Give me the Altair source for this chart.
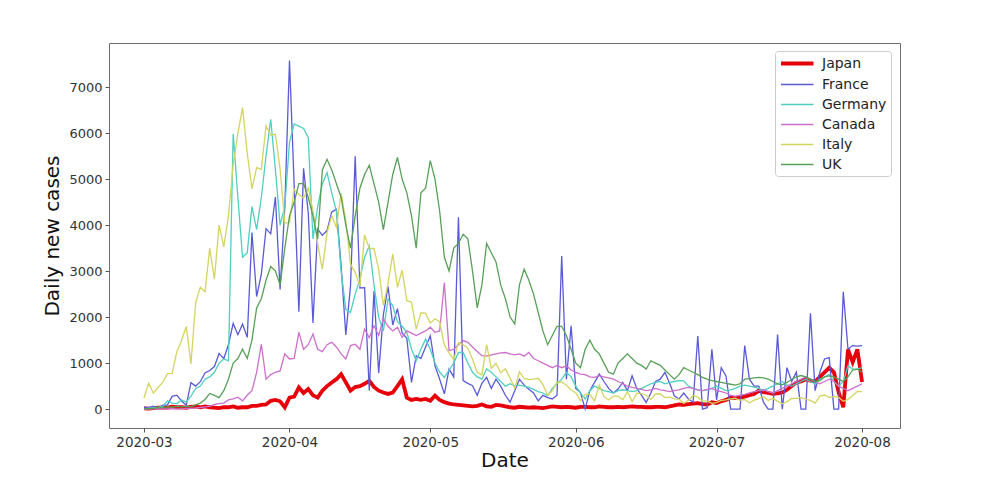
import altair as alt
import pandas as pd

# ---------------- data (daily, 2020-03-01 .. 2020-08-01) ----------------
dates = pd.date_range("2020-03-01", periods=154, freq="D")

countries = ["Japan", "France", "Germany", "Canada", "Italy", "UK"]

japan = [15, 10, 20, 30, 35, 30, 50, 40, 40, 30,
         50, 60, 40, 60, 40, 30, 20, 40, 40, 60,
         30, 40, 40, 70, 70, 90, 100, 180, 200, 170,
         36, 250, 270, 470, 350, 435, 300, 250, 400, 500,
         580, 650, 760, 580, 400, 480, 500, 550, 615, 480,
         400, 360, 330, 360, 500, 650, 250, 200, 220, 200,
         220, 180, 290, 200, 150, 120, 100, 90, 80, 70,
         60, 70, 100, 60, 50, 90, 80, 60, 40, 30,
         50, 40, 30, 40, 30, 20, 40, 60, 50, 40,
         50, 40, 30, 50, 50, 40, 40, 60, 50, 40,
         40, 50, 40, 50, 60, 50, 50, 40, 40, 50,
         50, 40, 60, 80, 100, 90, 110, 120, 130, 110,
         100, 150, 130, 170, 200, 250, 240, 250, 270, 300,
         330, 400, 370, 350, 330, 340, 360, 420, 500, 580,
         600, 650, 620, 600, 700, 800, 900, 800, 370, 40,
         1300, 1020, 1300, 590]

france = [43, 30, 61, 13, 84, 92, 276, 303, 177, 83,
          575, 499, 595, 785, 838, 924, 1210, 1097, 1404, 1861,
          1617, 1847, 1559, 3838, 2446, 2931, 3922, 3809, 4611, 2599,
          4376, 7578, 4861, 2116, 5233, 4267, 1873, 3912, 3777, 3881,
          4286, 4342, 3114, 1613, 2673, 5497, 2633, 2641, 405, 2569,
          785, 2051, 2667, 1827, 2183, 1653, 1537, 580, 1160, 1100,
          1350, 1590, 940, 650, 330, 870, 700, 4170, 620, 560,
          510, 300, 560, 690, 450, 650, 500, 300, 150, 400,
          650, 520, 430, 350, 180, 300, 250, 220, 300, 3330,
          650, 1810, 450, 360, 0, 400, 580, 760, 600, 450,
          350, 435, 580, 400, 725, 450, 300, 145, 350, 600,
          650, 800, 560, 290, 220, 350, 220, 150, 1590, 0,
          30, 1300, 200, 900, 720, 0, 0, 0, 1380, 650,
          500, 500, 145, 0, 0, 1620, 0, 900, 600, 800,
          0, 0, 2080, 400, 800, 1090, 1120, 0, 0, 2550,
          1300, 1380, 1370, 1380]

germany = [0, 20, 30, 40, 60, 180, 130, 120, 200, 150,
           280, 450, 500, 650, 700, 800, 1000, 1090, 1050, 5980,
           4600, 3300, 3400, 4400, 3900, 4600, 5500, 6300, 5200, 4000,
           4400, 5800, 6200, 6150, 6100, 5900, 3700, 4400, 4900, 5140,
           4700, 4300, 3000, 2170, 2100, 2500, 2830, 3300, 3550, 2700,
           2000, 1700, 2390, 2250, 1900, 1800, 1670, 1300, 1050, 1300,
           1520, 1300, 1000, 800, 690, 850, 1000, 1230, 1230, 1000,
           800, 700, 650, 870, 800, 700, 600, 500, 550, 500,
           520, 500, 470, 430, 380, 350, 290, 450, 550, 650,
           800, 700, 500, 350, 220, 400, 500, 450, 400, 380,
           350, 400, 420, 400, 380, 400, 450, 500, 550, 580,
           600, 550, 580, 600, 620, 615, 500, 450, 420, 400,
           420, 450, 500, 450, 400, 420, 450, 500, 520, 500,
           480, 450, 400, 450, 500, 550, 600, 520, 500, 550,
           600, 650, 600, 550, 650, 700, 750, 600, 500, 600,
           940, 870, 870, 900]

canada = [4, 0, 3, 3, 3, 4, 12, 6, 6, 15,
          16, 24, 35, 50, 60, 100, 120, 130, 200, 220,
          260, 180, 300, 400, 800, 1410, 650, 750, 800, 830,
          1200, 1090, 1100, 1670, 1300, 1400, 1630, 1300, 1250, 1400,
          1450, 1350, 1200, 1090, 1380, 1410, 1300, 1740, 1550, 1810,
          1600, 1960, 1800, 1700, 1780, 1560, 1700, 1650, 1600, 1650,
          1700, 1780, 1670, 1700, 2750, 1270, 1300, 1400, 1490, 1450,
          1350, 1250, 1160, 1150, 1180, 1200, 1220, 1230, 1200, 1180,
          1200, 1150, 1230, 1100, 1050, 1000, 950, 900, 950, 900,
          940, 850, 800, 760, 750, 700, 690, 725, 700, 680,
          650, 600, 550, 500, 470, 450, 430, 400, 420, 450,
          420, 400, 380, 400, 420, 450, 470, 450, 420, 400,
          430, 450, 400, 380, 350, 300, 280, 300, 320, 350,
          380, 400, 420, 380, 350, 400, 450, 500, 550, 600,
          650, 700, 650, 600, 550, 600, 650, 600, 500, 450,
          400, 450, 500, 550]

italy = [240, 561, 347, 466, 587, 769, 778, 1247, 1492, 1797,
         977, 2313, 2651, 2547, 3497, 2823, 4000, 3526, 4207, 5322,
         5986, 6557, 5560, 4789, 5249, 5210, 6153, 5959, 5974, 5217,
         4050, 4053, 4782, 4668, 4585, 4805, 4316, 3599, 3039, 3836,
         4204, 3951, 4694, 4092, 3153, 2972, 2667, 3786, 3493, 3491,
         3047, 2256, 2729, 3370, 2646, 3021, 2357, 2324, 1739, 2091,
         2086, 1872, 1965, 1900, 1389, 1221, 1075, 1444, 1401, 1327,
         1083, 802, 744, 1402, 888, 992, 789, 875, 675, 451,
         813, 665, 642, 652, 669, 531, 300, 397, 584, 593,
         516, 416, 355, 178, 318, 321, 177, 518, 270, 197,
         280, 283, 202, 379, 163, 346, 338, 301, 210, 328,
         333, 251, 262, 224, 218, 122, 190, 296, 259, 175,
         174, 126, 142, 187, 201, 223, 235, 192, 208, 138,
         193, 229, 276, 188, 234, 169, 114, 162, 230, 233,
         249, 219, 190, 129, 282, 306, 252, 275, 255, 170,
         212, 289, 386, 379]

uk = [10, 10, 15, 30, 30, 50, 40, 60, 50, 60,
      50, 90, 130, 210, 340, 300, 250, 400, 650, 1000,
      1100, 1300, 1100, 1500, 2200, 2400, 2800, 3100, 3000, 2700,
      3500, 4200, 4500, 4900, 4900, 4600, 4200, 3700, 5200, 5430,
      5200, 4900, 4600, 4000, 3500, 4200, 4800, 5100, 5300, 4900,
      4500, 3900, 4500, 5100, 5470, 5000, 4700, 4200, 3500, 4700,
      4800, 5400, 5000, 4300, 3300, 3000, 3500, 3600, 3800, 3700,
      3000, 2200, 2700, 3600, 3400, 3200, 2700, 2400, 2000, 1850,
      2700, 3040, 2800, 2500, 2100, 1700, 1400, 1600, 1800, 1800,
      1600, 1300, 1000, 900, 1300, 1500, 1300, 1200, 1000, 800,
      760, 1000, 1100, 1200, 1100, 1000, 950, 870, 1050, 1000,
      950, 850, 750, 650, 750, 900, 850, 800, 750, 690,
      650, 620, 600, 580, 560, 540, 520, 550, 650, 660,
      680, 690, 680, 650, 600, 550, 530, 580, 650, 700,
      730, 700, 650, 600, 620, 700, 720, 700, 650, 600,
      700, 850, 870, 800]

series = [japan, france, germany, canada, italy, uk]

# ---------------- styles ----------------
colors = ["#e6000a", "#5a5ad8", "#4fcfc0", "#cc70cc", "#d4d460", "#58a058"]
widths = [3.8, 1.3, 1.3, 1.3, 1.3, 1.3]
FONT = "DejaVu Sans"

rows = []
for name, vals in zip(countries, series):
    for dt, v in zip(dates, vals):
        rows.append({"Date": dt, "country": name, "cases": v})
df = pd.DataFrame(rows)

legend = alt.Legend(
    title=None, orient="none", legendX=666, legendY=8,
    symbolType="M-1,0H4", symbolSize=169, labelOffset=26,
    labelFontSize=14, labelFont=FONT, labelColor="#222",
    rowPadding=5, padding=4, fillColor="white",
    strokeColor="#cccccc", cornerRadius=3,
)

x_ticks = [alt.DateTime(year=2020, month=m, date=1) for m in range(3, 9)]

axis_style = dict(domain=False, grid=False, tickSize=4, tickColor="#555",
                  labelColor="#333", labelFont=FONT, titleFont=FONT,
                  titleFontWeight="normal", titleColor="#111")

chart = alt.Chart(df).mark_line().encode(
    x=alt.X("Date:T",
            scale=alt.Scale(domain=[alt.DateTime(year=2020, month=2, date=22, hours=13),
                                    alt.DateTime(year=2020, month=8, date=9, hours=2)]),
            axis=alt.Axis(values=x_ticks, format="%Y-%m", title="Date",
                          labelFontSize=13.5, titleFontSize=20, titlePadding=2,
                          labelPadding=3, labelAngle=0, **axis_style)),
    y=alt.Y("cases:Q",
            scale=alt.Scale(domain=[-411, 7958], nice=False, zero=False),
            axis=alt.Axis(values=list(range(0, 8000, 1000)), format="d",
                          title="Daily new cases", labelFontSize=13,
                          titleFontSize=20, titlePadding=6, labelPadding=3,
                          **axis_style)),
    color=alt.Color("country:N", sort=countries,
                    scale=alt.Scale(domain=countries, range=colors),
                    legend=legend),
    strokeWidth=alt.StrokeWidth("country:N", sort=countries,
                                scale=alt.Scale(type="ordinal", domain=countries, range=widths),
                                legend=legend),
).properties(
    width=791, height=385,
    background="white",
    autosize=alt.AutoSizeParams(type="none"),
    padding={"left": 101, "top": 35, "right": 90, "bottom": 50},
).configure_view(
    stroke="#6e6e6e", strokeWidth=1
)

chart.save("out.html", embed_options={"renderer": "svg", "actions": False})
